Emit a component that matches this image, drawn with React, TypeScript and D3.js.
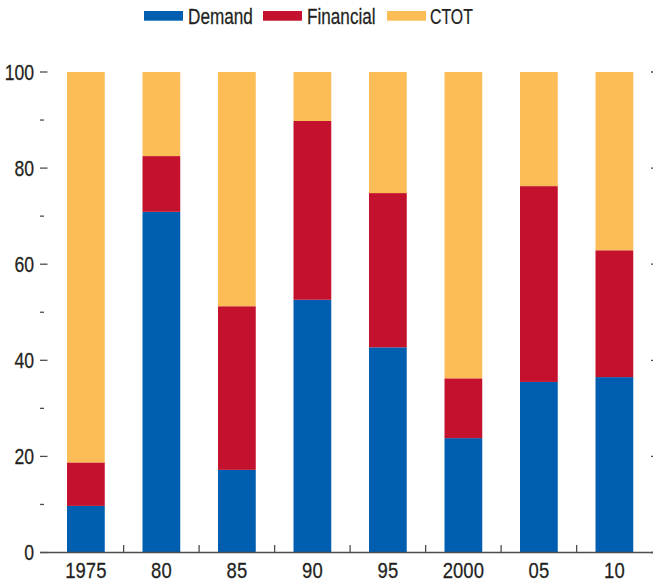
import React from "react";
import * as d3 from "d3";

const categories = ["1975", "80", "85", "90", "95", "2000", "05", "10"];
const demand = [9.7, 70.9, 17.2, 52.6, 42.7, 23.8, 35.5, 36.5];
const financial = [9.05, 11.6, 34.05, 37.2, 32.1, 12.45, 40.75, 26.4];
const ctot = categories.map((_, i) => +(100 - demand[i] - financial[i]).toFixed(2));
const seriesNames = ["Demand", "Financial", "CTOT"];
const seriesColors = ["#005EB0", "#C3112E", "#FDBD56"];
const majorTicks = [0, 20, 40, 60, 80, 100];
const minorTicks = [10, 30, 50, 70, 90];

const W = 653;
const H = 581;
const FONT = "'Liberation Sans', Arial, Helvetica, sans-serif";
const TEXT = "#231f20";
const AXIS = "#4d4d4d";
const FS = 22;

function NText({
  x,
  y,
  sx,
  anchor = "start",
  dy,
  children,
}: {
  x: number;
  y: number;
  sx: number;
  anchor?: string;
  dy?: string;
  children: React.ReactNode;
}) {
  return (
    <text
      transform={`translate(${x},${y}) scale(${sx},1)`}
      textAnchor={anchor}
      dy={dy}
      fontSize={FS}
      fill={TEXT}
      stroke={TEXT}
      strokeWidth={0.25}
    >
      {children}
    </text>
  );
}

export default function App() {
  const rows = categories.map((c, i) => ({
    cat: c,
    Demand: demand[i],
    Financial: financial[i],
    CTOT: ctot[i],
  }));
  const stacked = d3.stack<any>().keys(seriesNames)(rows);

  const x = d3
    .scaleBand<string>()
    .domain(categories)
    .range([48.125, 652.125])
    .paddingInner(0.5)
    .paddingOuter(0.25);
  const y = d3.scaleLinear().domain([0, 100]).range([552.5, 72]);
  const bw = x.bandwidth();
  const gap = (x.step() - bw) / 2;

  const legendItems = [
    { name: "Demand", sx: 144, tx: 188, k: 0.78 },
    { name: "Financial", sx: 263, tx: 307, k: 0.78 },
    { name: "CTOT", sx: 387, tx: 430, k: 0.72 },
  ];

  return (
    <svg
      width={W}
      height={H}
      style={{ position: "absolute", left: 0, top: 0, background: "#fff" }}
      fontFamily={FONT}
    >
      {/* legend */}
      {legendItems.map((it, i) => (
        <g key={it.name}>
          <rect x={it.sx} y={11} width={39} height={9.7} fill={seriesColors[i]} />
          <NText x={it.tx} y={24} sx={it.k}>
            {it.name}
          </NText>
        </g>
      ))}

      {/* bars */}
      {stacked.map((s, si) => (
        <g key={s.key} fill={seriesColors[si]}>
          {s.map((d, i) => (
            <rect
              key={i}
              x={x(categories[i])}
              y={y(d[1])}
              width={bw}
              height={y(d[0]) - y(d[1])}
            />
          ))}
        </g>
      ))}

      {/* y axis ticks and labels */}
      {majorTicks.map((t) => (
        <g key={"M" + t}>
          <line x1={40} x2={47.5} y1={y(t)} y2={y(t)} stroke={AXIS} strokeWidth={1.3} />
          <line x1={651} x2={660} y1={y(t)} y2={y(t)} stroke={AXIS} strokeWidth={1.3} />
          <NText x={34} y={y(t)} sx={0.8} anchor="end" dy="0.36em">
            {t}
          </NText>
        </g>
      ))}
      {minorTicks.map((t) => (
        <line key={"m" + t} x1={40} x2={44} y1={y(t)} y2={y(t)} stroke={AXIS} strokeWidth={1.3} />
      ))}

      {/* x axis */}
      <line x1={40} x2={W} y1={y(0)} y2={y(0)} stroke={AXIS} strokeWidth={1.3} />
      {categories.slice(1).map((c) => (
        <line
          key={"xt" + c}
          x1={(x(c) as number) - gap}
          x2={(x(c) as number) - gap}
          y1={y(0)}
          y2={y(0) - 7.5}
          stroke={AXIS}
          strokeWidth={1.3}
        />
      ))}
      {categories.map((c) => (
        <NText key={"xl" + c} x={(x(c) as number) + bw / 2} y={578} sx={0.84} anchor="middle">
          {c}
        </NText>
      ))}
    </svg>
  );
}
